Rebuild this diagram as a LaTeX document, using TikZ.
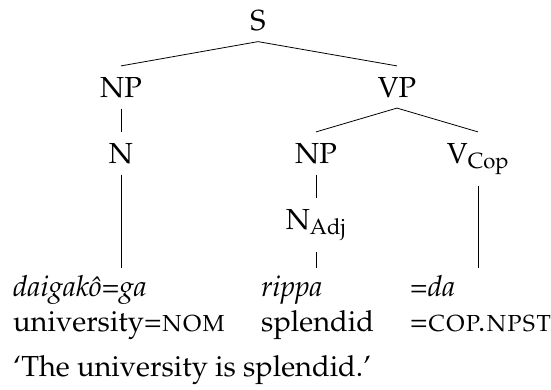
\documentclass[tikz,border=0pt]{standalone}
\usepackage[T1]{fontenc}
\usepackage{mathpazo}
\begin{document}
\begin{tikzpicture}[x=1pt,y=-1pt,
  every node/.style={font=\fontsize{29}{35}\selectfont, inner sep=0pt},
  cat/.style={anchor=base, outer ysep=11pt},
  word/.style={anchor=base west, text height=21pt, outer ysep=7pt},
  gloss/.style={anchor=base west},
  branch/.style={line width=0.8pt}]
\useasboundingbox (0,0) rectangle (551,389);

% tree nodes
\node[cat] (S)   at (258,30)  {S};
\node[cat] (np1) at (121,97)  {NP};
\node[cat] (vp)  at (397,97)  {VP};
\node[cat] (n)   at (121,163) {N};
\node[cat] (np2) at (316,163) {NP};
\node[cat] (vc)  at (478,163) {V\textsubscript{Cop}};
\node[cat] (na)  at (316,229) {N\textsubscript{Adj}};

% words and glosses
\node[word]  (w1) at (13,296)  {\textit{daigak\^o=ga}};
\node[word]  (w2) at (261,296) {\textit{rippa}};
\node[word]  (w3) at (410,296) {\textit{=da}};
\node[gloss] (g1) at (13,331)  {university=\textsc{nom}};
\node[gloss] (g2) at (261,331) {splendid};
\node[gloss] (g3) at (410,331) {=\textsc{cop.npst}};
\node[gloss] (tr) at (13,376)  {`The university is splendid.'};

% branches
\draw[branch] (np1.north) -- (S.south) -- (vp.north);
\draw[branch] (np1.south) -- (n.north);
\draw[branch] (np2.north) -- (vp.south) -- (vc.north);
\draw[branch] (np2.south) -- (na.north);
\draw[branch] (n.south)  -- (n.south |- w1.north);
\draw[branch] (na.south) -- (na.south |- w2.north);
\draw[branch] (vc.south) -- (vc.south |- w3.north);
\end{tikzpicture}
\end{document}
